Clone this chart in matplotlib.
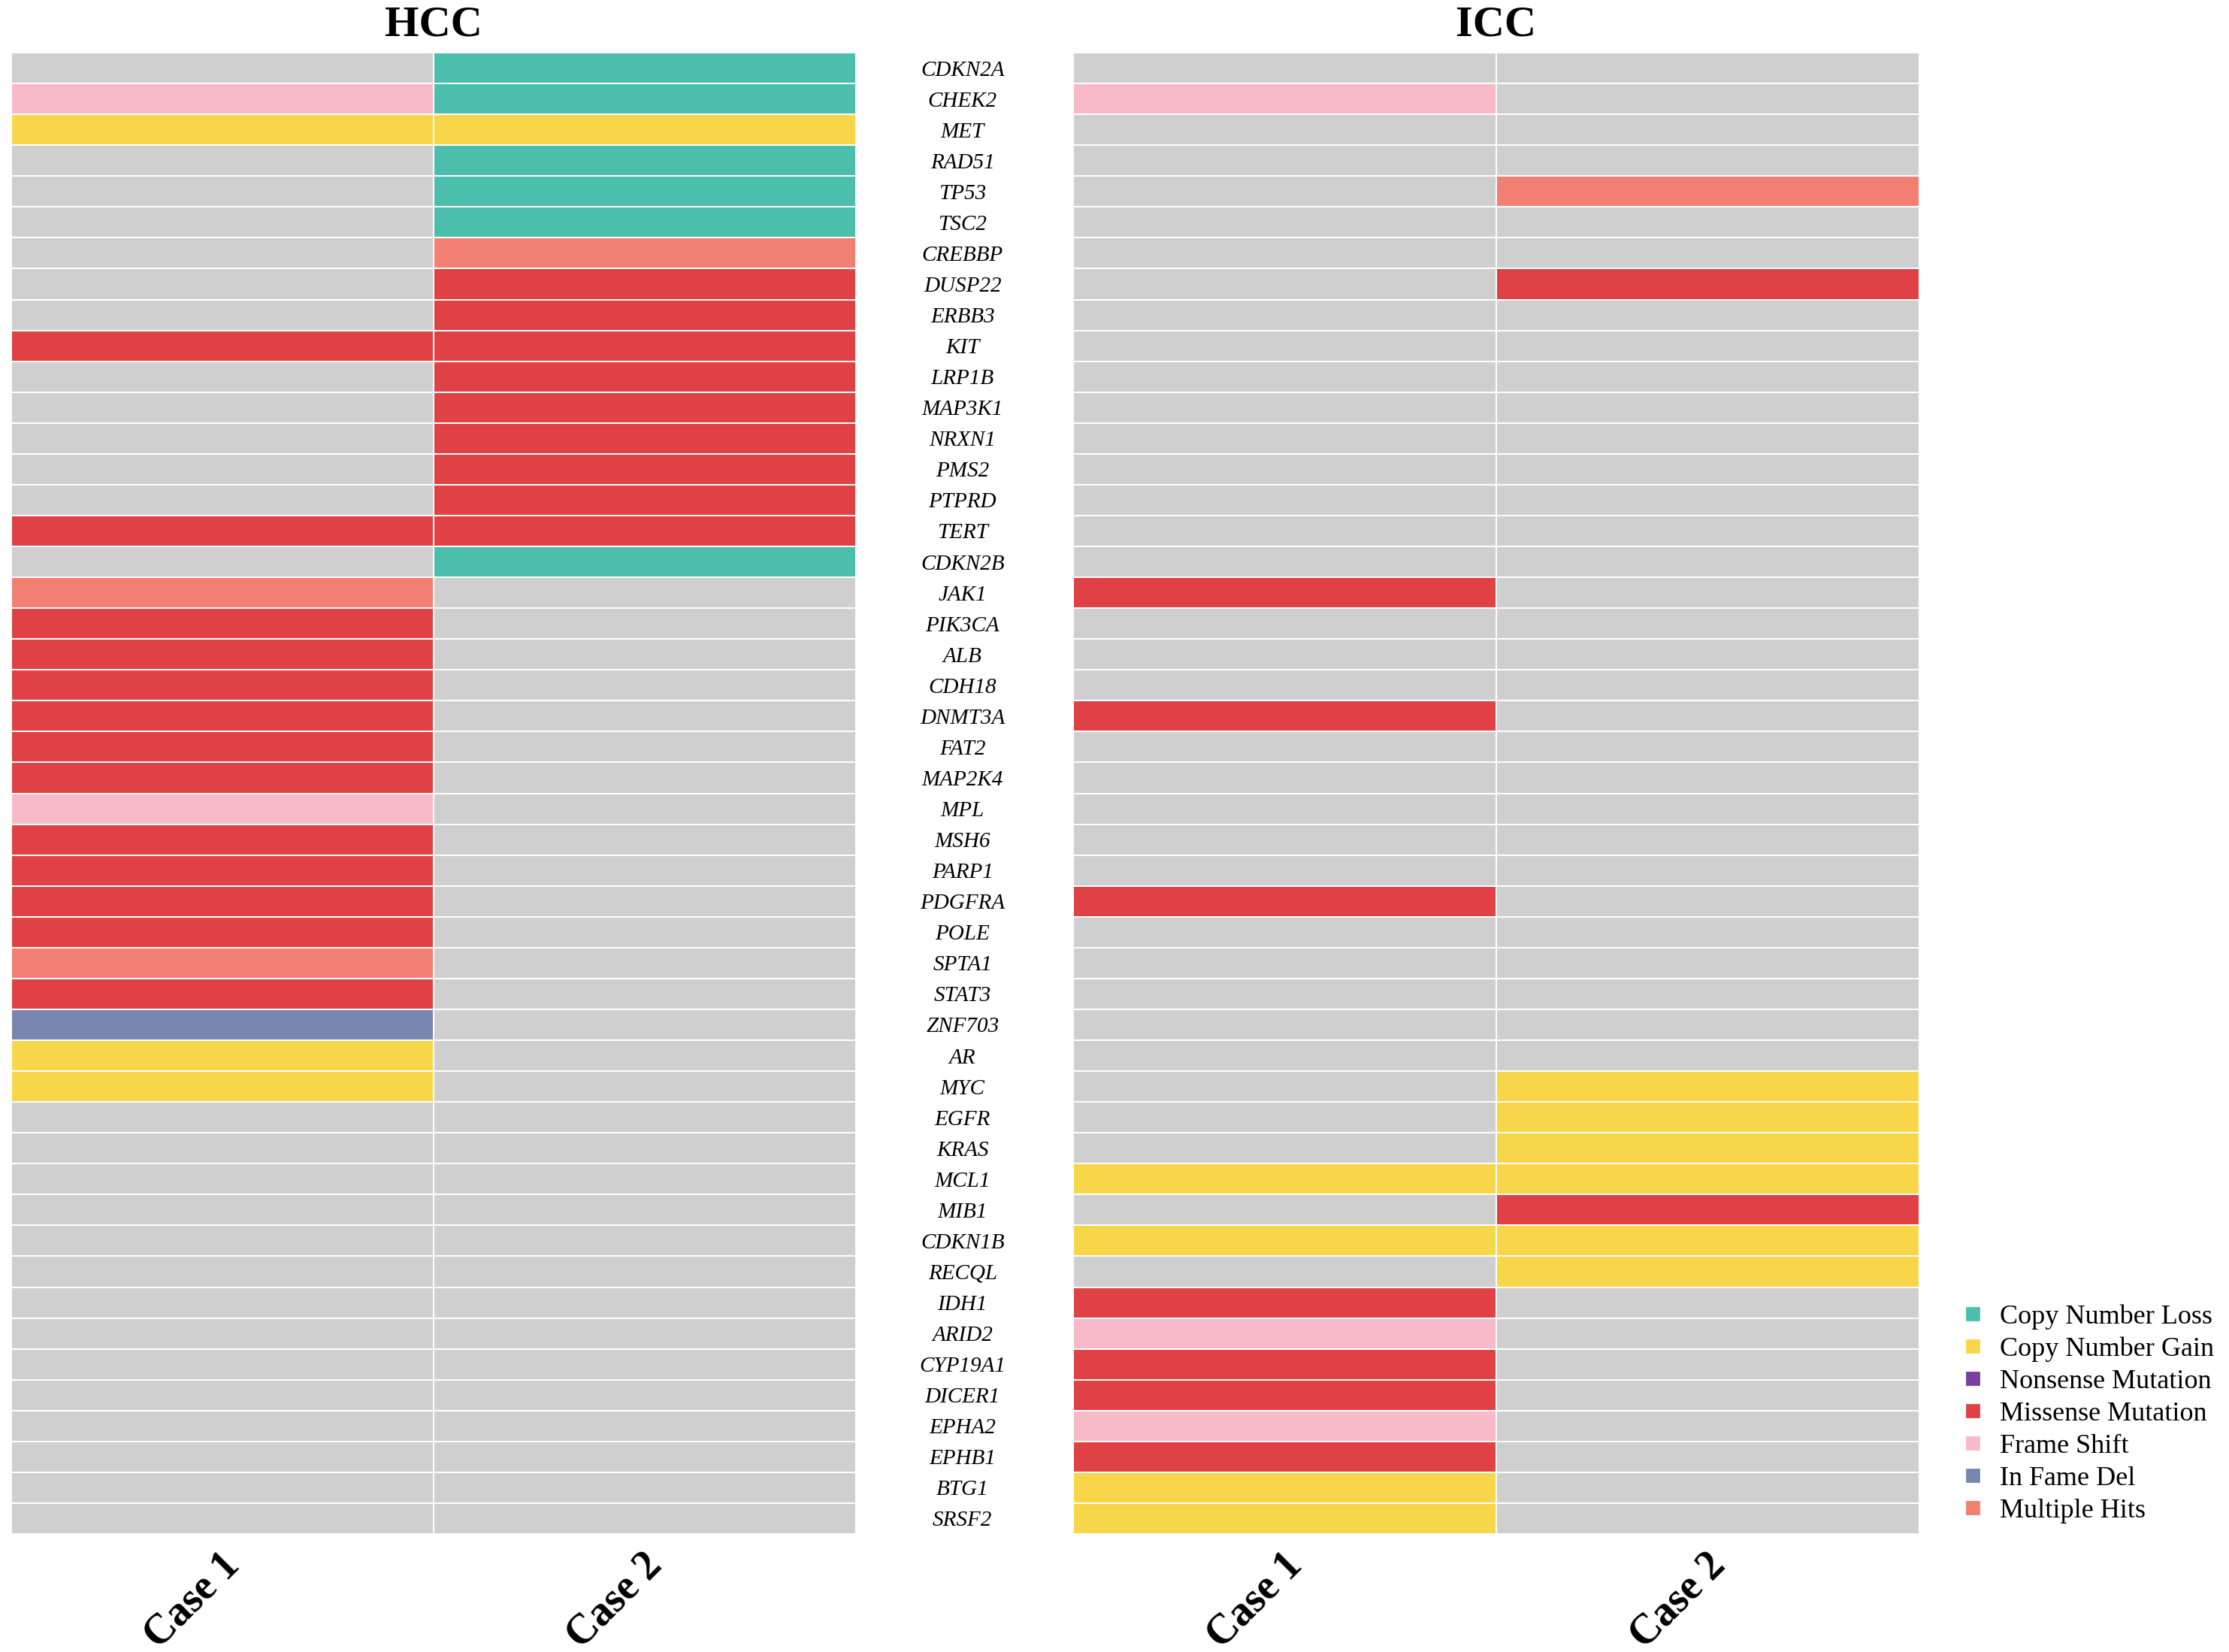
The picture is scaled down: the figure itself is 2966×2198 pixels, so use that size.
import numpy as np
import matplotlib
matplotlib.use("Agg")
import matplotlib.pyplot as plt
import matplotlib.transforms as mtransforms
from matplotlib.colors import ListedColormap, BoundaryNorm
from matplotlib.lines import Line2D

plt.rcParams['font.family'] = ['Liberation Serif', 'DejaVu Serif']

genes = ["CDKN2A", "CHEK2", "MET", "RAD51", "TP53", "TSC2", "CREBBP", "DUSP22",
         "ERBB3", "KIT", "LRP1B", "MAP3K1", "NRXN1", "PMS2", "PTPRD", "TERT",
         "CDKN2B", "JAK1", "PIK3CA", "ALB", "CDH18", "DNMT3A", "FAT2", "MAP2K4",
         "MPL", "MSH6", "PARP1", "PDGFRA", "POLE", "SPTA1", "STAT3", "ZNF703",
         "AR", "MYC", "EGFR", "KRAS", "MCL1", "MIB1", "CDKN1B", "RECQL",
         "IDH1", "ARID2", "CYP19A1", "DICER1", "EPHA2", "EPHB1", "BTG1", "SRSF2"]
cases = ["Case 1", "Case 2"]
groups = ["HCC", "ICC"]

# 0 none, 1 CN loss, 2 CN gain, 3 nonsense, 4 missense, 5 frame shift, 6 in frame del, 7 multiple hits
categories = ["Copy Number Loss", "Copy Number Gain", "Nonsense Mutation",
              "Missense Mutation", "Frame Shift", "In Fame Del", "Multiple Hits"]
cat_colors = ["#4BBFAC", "#F7D64A", "#7B3F9F", "#E04145", "#F8BAC9", "#7886AF", "#F28072"]
none_color = "#CFCFCF"

hcc_case1 = [0, 5, 2, 0, 0, 0, 0, 0, 0, 4, 0, 0, 0, 0, 0, 4,
             0, 7, 4, 4, 4, 4, 4, 4, 5, 4, 4, 4, 4, 7, 4, 6,
             2, 2, 0, 0, 0, 0, 0, 0, 0, 0, 0, 0, 0, 0, 0, 0]
hcc_case2 = [1, 1, 2, 1, 1, 1, 7, 4, 4, 4, 4, 4, 4, 4, 4, 4,
             1, 0, 0, 0, 0, 0, 0, 0, 0, 0, 0, 0, 0, 0, 0, 0,
             0, 0, 0, 0, 0, 0, 0, 0, 0, 0, 0, 0, 0, 0, 0, 0]
icc_case1 = [0, 5, 0, 0, 0, 0, 0, 0, 0, 0, 0, 0, 0, 0, 0, 0,
             0, 4, 0, 0, 0, 4, 0, 0, 0, 0, 0, 4, 0, 0, 0, 0,
             0, 0, 0, 0, 2, 0, 2, 0, 4, 5, 4, 4, 5, 4, 2, 2]
icc_case2 = [0, 0, 0, 0, 7, 0, 0, 4, 0, 0, 0, 0, 0, 0, 0, 0,
             0, 0, 0, 0, 0, 0, 0, 0, 0, 0, 0, 0, 0, 0, 0, 0,
             0, 2, 2, 2, 2, 4, 2, 2, 0, 0, 0, 0, 0, 0, 0, 0]

cmap = ListedColormap([none_color] + cat_colors)
norm = BoundaryNorm(np.arange(-0.5, 8.5, 1), cmap.N)

W, H, DPI = 2966, 2198, 200
fig = plt.figure(figsize=(W / DPI, H / DPI), dpi=DPI)

def frac(x0, x1, ytop, ybot):
    return [x0 / W, 1 - ybot / H, (x1 - x0) / W, (ybot - ytop) / H]

ax1 = fig.add_axes(frac(15, 1139, 70, 2041))
ax2 = fig.add_axes(frac(1428, 2554, 70, 2041))

data = {"HCC": np.array([hcc_case1, hcc_case2]).T,
        "ICC": np.array([icc_case1, icc_case2]).T}

offset = mtransforms.ScaledTranslation(15 / DPI, -34 / DPI, fig.dpi_scale_trans)

for ax, g in zip([ax1, ax2], groups):
    m = data[g]
    ax.pcolormesh(np.arange(len(cases) + 1), np.arange(len(genes) + 1), m,
                  cmap=cmap, norm=norm, edgecolor="white", linewidth=0.7)
    ax.set_xlim(0, len(cases))
    ax.set_ylim(len(genes), 0)
    for s in ax.spines.values():
        s.set_visible(False)
    ax.set_xticks([])
    trans = mtransforms.blended_transform_factory(ax.transData, ax.transAxes) + offset
    for i, c in enumerate(cases):
        ax.text(i + 0.5, 0, c, transform=trans, rotation=45, ha="right", va="center",
                rotation_mode="anchor", fontsize=20, fontweight="bold", clip_on=False)
    ax.set_title(g, fontsize=21, fontweight="bold", pad=8)

ax1.set_yticks([])
ax2.set_yticks(np.arange(len(genes)) + 0.5)
ax2.set_yticklabels(genes, fontsize=10.5, style="italic")
for t in ax2.get_yticklabels():
    t.set_ha("center")
ax2.tick_params(axis="y", length=0, pad=53)

handles = [Line2D([0], [0], marker="s", linestyle="none", markersize=6,
                  markerfacecolor=c, markeredgecolor=c) for c in cat_colors]
fig.legend(handles, categories, loc="upper left", bbox_to_anchor=(0.879, 0.2106),
           frameon=False, fontsize=13, borderpad=0, borderaxespad=0,
           handlelength=1.0, handletextpad=0.5, labelspacing=0.27)

fig.savefig("out.png", dpi=DPI)
